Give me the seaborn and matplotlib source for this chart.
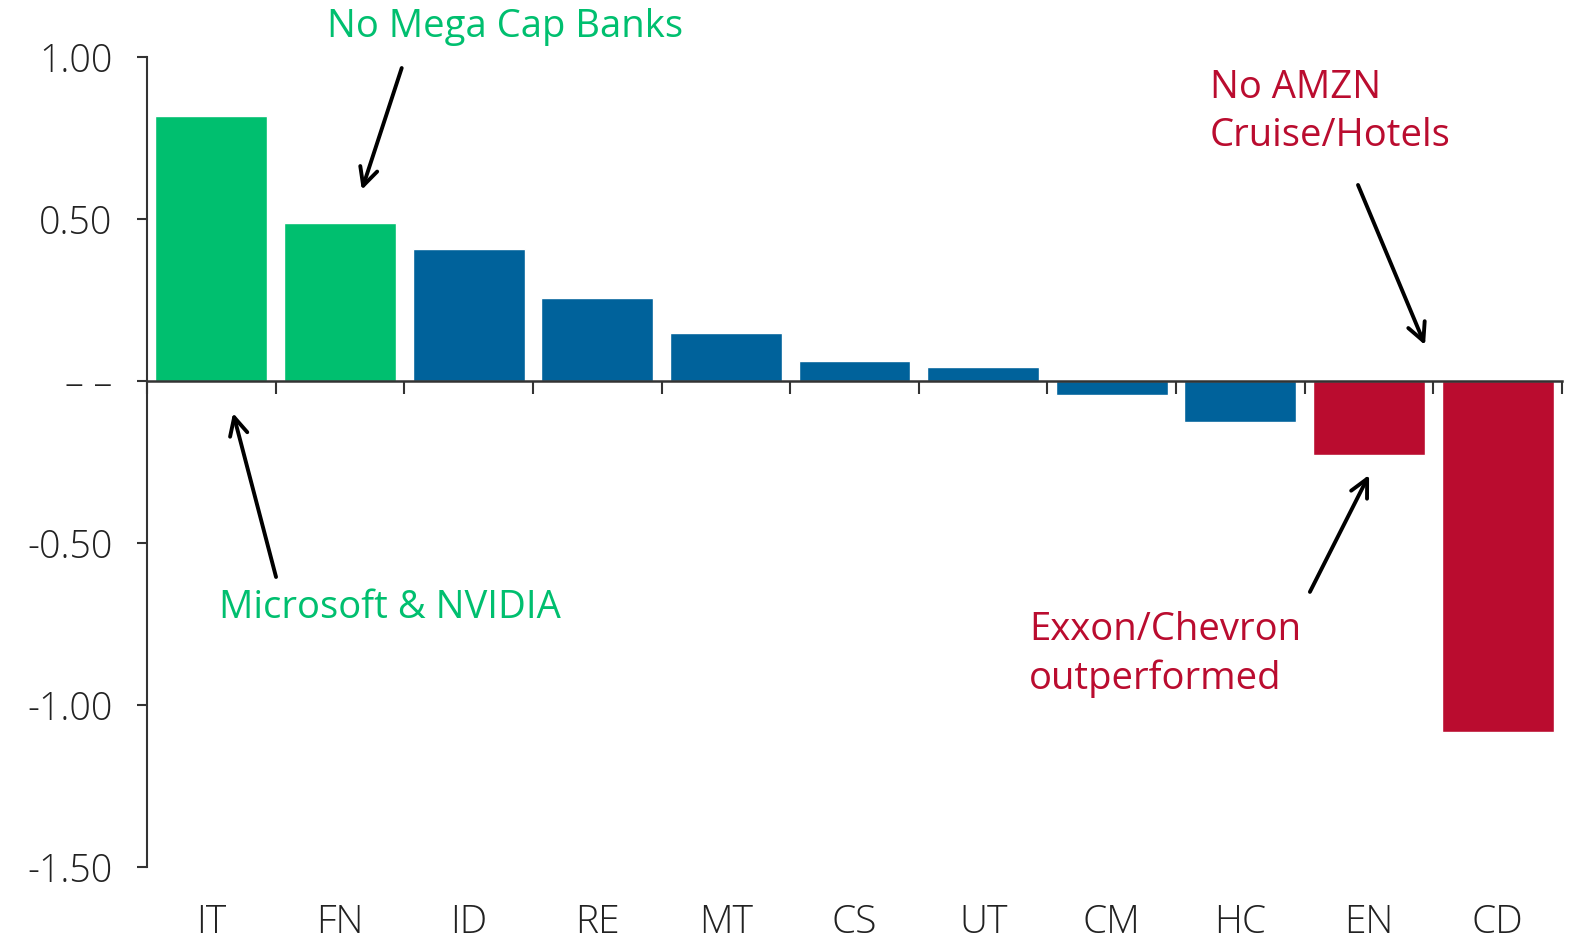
import seaborn as sns
import pandas as pd
import matplotlib.pyplot as plt

sectors = ['IT', 'FN', 'ID', 'RE', 'MT', 'CS', 'UT', 'CM', 'HC', 'EN', 'CD']
values = [0.818, 0.488, 0.407, 0.256, 0.148, 0.062, 0.043, -0.043, -0.127, -0.228, -1.083]
groups = ['good', 'good', 'mid', 'mid', 'mid', 'mid', 'mid', 'mid', 'mid', 'bad', 'bad']
ytick_vals = [1.0, 0.5, 0.0, -0.5, -1.0, -1.5]
ytick_text = ['1.00', '0.50', '– –', '-0.50', '-1.00', '-1.50']

green = '#00BF6F'
blue = '#00629B'
red = '#BA0C2F'
group_colors = {'good': green, 'mid': blue, 'bad': red}

df = pd.DataFrame({'sector': sectors, 'value': values, 'group': groups})

sns.set_style('white')
plt.rcParams['font.family'] = ['Open Sans', 'DejaVu Sans']

fig = plt.figure(figsize=(15.74, 9.39), dpi=100)
ax = fig.add_axes([0.0934, 0.0767, 0.899, 0.8626])

sns.barplot(data=df, x='sector', y='value', hue='group', palette=group_colors,
            dodge=False, legend=False, width=0.87, saturation=1, ax=ax)

ax.set_xlim(-0.5, 10.5)
ax.set_ylim(-1.5, 1.0)
ax.set_xlabel('')
ax.set_ylabel('')

# y axis
ax.set_yticks(ytick_vals)
ax.set_yticklabels(ytick_text, fontweight='light')
ax.tick_params(axis='y', direction='out', length=7, width=1.5, color='#333333',
               labelsize=27, pad=18, labelcolor='#222222', left=True)

# zero line: bottom spine moved to y=0, ticks at bar boundaries
ax.spines['bottom'].set_position(('data', 0))
ax.set_xticks([i - 0.5 for i in range(len(sectors) + 1)])
ax.tick_params(axis='x', direction='out', length=9, width=1.5, color='#333333',
               labelbottom=False, bottom=True)
ax.spines['bottom'].set_color('#333333')
ax.spines['bottom'].set_linewidth(1.8)

for side in ['top', 'right']:
    ax.spines[side].set_visible(False)
ax.spines['left'].set_color('#333333')
ax.spines['left'].set_linewidth(1.5)

# category labels under the plot
cat_ax = ax.secondary_xaxis('bottom')
cat_ax.set_xticks(range(len(sectors)))
cat_ax.set_xticklabels(sectors, fontweight='light')
cat_ax.tick_params(axis='x', length=0, labelsize=28, pad=26, labelcolor='#222222')
cat_ax.spines['bottom'].set_visible(False)

arrow = dict(arrowstyle='->', lw=2.8, color='black', mutation_scale=32,
             shrinkA=0, shrinkB=0)
note_size = 27.5

ax.annotate('', xy=(1.17, 0.59), xytext=(1.48, 0.966),
            arrowprops=arrow, annotation_clip=False)
ax.text(2.28, 1.093, 'No Mega Cap Banks', color=green, fontsize=note_size,
        ha='center', va='center', clip_on=False)

ax.annotate('', xy=(0.169, -0.099), xytext=(0.503, -0.605), arrowprops=arrow)
ax.text(1.385, -0.70, 'Microsoft & NVIDIA', color=green, fontsize=note_size,
        ha='center', va='center')

ax.annotate('', xy=(9.435, 0.111), xytext=(8.914, 0.605), arrowprops=arrow)
ax.text(7.763, 0.83, 'No AMZN\nCruise/Hotels', color=red, fontsize=note_size,
        ha='left', va='center', linespacing=1.35)

ax.annotate('', xy=(9.0, -0.29), xytext=(8.54, -0.651), arrowprops=arrow)
ax.text(6.356, -0.843, 'Exxon/Chevron\noutperformed', color=red, fontsize=note_size,
        ha='left', va='center', linespacing=1.35)

fig.savefig('out.png', dpi=100)
